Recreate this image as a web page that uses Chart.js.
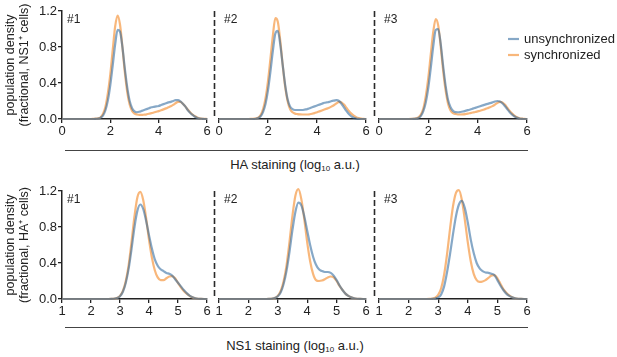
<!DOCTYPE html>
<html>
<head>
<meta charset="utf-8">
<script src="https://cdn.jsdelivr.net/npm/chart.js@4.4.1/dist/chart.umd.min.js"></script>
<style>
body { margin: 0; background: #fff; font-family: "Liberation Sans", Arial, sans-serif; color: #222; }
#wrap { position: relative; width: 617px; height: 357px; overflow: hidden; }
#wrap canvas { position: absolute; }
.rule { position: absolute; height: 0; border-top: 1px solid #444; }
.xtitle { position: absolute; width: 300px; text-align: center; font-size: 13px; line-height: 15px; }
.xtitle sub { font-size: 8px; line-height: 0; vertical-align: -2px; }
</style>
</head>
<body>
<div id="wrap">
  <canvas id="t1" width="214" height="142" style="left:0px;top:0px"></canvas>
  <canvas id="t2" width="166" height="142" style="left:207px;top:0px"></canvas>
  <canvas id="t3" width="250" height="142" style="left:367px;top:0px"></canvas>
  <canvas id="b1" width="214" height="142" style="left:0px;top:180px"></canvas>
  <canvas id="b2" width="166" height="142" style="left:207px;top:180px"></canvas>
  <canvas id="b3" width="250" height="142" style="left:367px;top:180px"></canvas>
  <div class="rule" style="left:65px;top:150px;width:463px"></div>
  <div class="xtitle" style="left:145px;top:157px">HA staining (log<sub>10</sub> a.u.)</div>
  <div class="rule" style="left:65px;top:327px;width:463px"></div>
  <div class="xtitle" style="left:145px;top:338px">NS1 staining (log<sub>10</sub> a.u.)</div>
</div>
<script>
// HA staining, x positions (log10 a.u.)
var haX = [0,
  1.2,1.3,1.4,1.5,1.6,1.7,1.8,1.9,2.0,2.1,
  2.2,2.3,2.4,2.5,2.6,2.7,2.8,2.9,3.0,3.1,
  3.2,3.3,3.4,3.5,3.6,3.7,3.8,3.9,4.0,4.1,
  4.2,4.3,4.4,4.5,4.6,4.7,4.8,4.9,5.0,5.1,
  5.2,5.3,5.4,5.5,5.6,5.7,5.8,5.9,6.0];

var haUnsync1 = [0,
  0,0,0.002,0.005,0.015,0.04,0.10,0.21,0.38,0.60,
  0.83,0.99,0.97,0.80,0.56,0.35,0.20,0.12,0.085,0.075,
  0.08,0.09,0.10,0.11,0.12,0.13,0.135,0.14,0.145,0.155,
  0.165,0.175,0.185,0.19,0.20,0.21,0.21,0.195,0.17,0.14,
  0.10,0.07,0.045,0.025,0.012,0.005,0.002,0,0];
var haSync1 = [0,
  0,0.002,0.004,0.008,0.02,0.06,0.14,0.29,0.50,0.77,
  1.03,1.15,1.05,0.80,0.52,0.30,0.16,0.09,0.06,0.05,
  0.045,0.045,0.048,0.052,0.058,0.065,0.072,0.08,0.088,0.097,
  0.107,0.118,0.13,0.142,0.157,0.175,0.19,0.19,0.17,0.14,
  0.105,0.075,0.05,0.03,0.016,0.007,0.003,0.001,0];

var haUnsync2 = [0,
  0,0,0,0.003,0.01,0.03,0.08,0.17,0.32,0.53,
  0.76,0.95,0.98,0.83,0.60,0.38,0.22,0.14,0.11,0.10,
  0.10,0.10,0.10,0.105,0.11,0.12,0.13,0.14,0.15,0.16,
  0.17,0.18,0.185,0.19,0.20,0.205,0.21,0.20,0.17,0.13,
  0.09,0.055,0.03,0.015,0.006,0.002,0,0,0];
var haSync2 = [0,
  0,0.001,0.003,0.006,0.015,0.045,0.11,0.23,0.42,0.67,
  0.93,1.12,1.08,0.87,0.60,0.36,0.20,0.11,0.075,0.06,
  0.055,0.052,0.05,0.05,0.05,0.053,0.058,0.065,0.075,0.085,
  0.095,0.105,0.115,0.125,0.14,0.155,0.175,0.19,0.185,0.16,
  0.125,0.09,0.06,0.037,0.02,0.01,0.004,0.001,0];

var haUnsync3 = [0,
  0,0,0.001,0.004,0.012,0.035,0.09,0.19,0.35,0.57,
  0.81,0.99,1.00,0.84,0.59,0.37,0.21,0.13,0.09,0.076,
  0.075,0.078,0.083,0.09,0.098,0.106,0.115,0.124,0.133,0.142,
  0.151,0.16,0.168,0.176,0.185,0.195,0.20,0.195,0.175,0.145,
  0.11,0.075,0.048,0.028,0.014,0.006,0.002,0,0];
var haSync3 = [0,
  0,0.001,0.003,0.007,0.018,0.05,0.12,0.26,0.46,0.72,
  0.97,1.11,1.04,0.81,0.54,0.32,0.17,0.095,0.065,0.055,
  0.05,0.05,0.052,0.055,0.06,0.066,0.072,0.078,0.085,0.092,
  0.10,0.11,0.12,0.13,0.143,0.16,0.178,0.19,0.185,0.16,
  0.125,0.09,0.06,0.036,0.019,0.009,0.004,0.001,0];

// NS1 staining, x positions (log10 a.u.)
var nsX = [1,
  2.5,2.6,2.7,2.8,2.9,3.0,3.1,3.2,3.3,3.4,
  3.5,3.6,3.7,3.8,3.9,4.0,4.1,4.2,4.3,4.4,
  4.5,4.6,4.7,4.8,4.9,5.0,5.1,5.2,5.3,5.4,
  5.5,5.6,5.7,5.8,5.9,6.0];

var nsUnsync1 = [0,
  0,0,0.001,0.003,0.01,0.03,0.08,0.18,0.34,0.56,
  0.80,0.98,1.05,1.00,0.87,0.71,0.56,0.44,0.37,0.33,
  0.31,0.29,0.28,0.26,0.22,0.18,0.14,0.10,0.065,0.038,
  0.02,0.009,0.003,0.001,0,0];
var nsSync1 = [0,
  0,0,0.001,0.004,0.012,0.035,0.09,0.20,0.38,0.64,
  0.92,1.13,1.19,1.10,0.90,0.66,0.46,0.32,0.24,0.21,
  0.21,0.23,0.25,0.255,0.23,0.18,0.13,0.09,0.06,0.035,
  0.018,0.008,0.003,0.001,0,0];

var nsUnsync2 = [0,
  0,0,0.001,0.003,0.01,0.03,0.075,0.17,0.32,0.53,
  0.77,0.97,1.07,1.04,0.92,0.76,0.60,0.47,0.38,0.33,
  0.31,0.30,0.30,0.29,0.26,0.21,0.15,0.10,0.06,0.035,
  0.018,0.008,0.003,0.001,0,0];
var nsSync2 = [0,
  0,0,0.001,0.004,0.012,0.035,0.09,0.20,0.38,0.64,
  0.93,1.15,1.22,1.11,0.89,0.63,0.42,0.28,0.21,0.20,
  0.205,0.22,0.24,0.25,0.24,0.20,0.145,0.10,0.06,0.035,
  0.018,0.008,0.003,0.001,0,0];

var nsUnsync3 = [0,
  0,0,0,0.002,0.006,0.018,0.05,0.14,0.30,0.50,
  0.72,0.92,1.05,1.09,1.01,0.85,0.66,0.51,0.40,0.34,
  0.31,0.295,0.29,0.28,0.265,0.21,0.15,0.10,0.06,0.035,
  0.018,0.008,0.003,0.001,0,0];
var nsSync3 = [0,
  0,0,0.001,0.004,0.014,0.045,0.12,0.27,0.50,0.78,
  1.03,1.18,1.21,1.10,0.88,0.63,0.42,0.28,0.21,0.19,
  0.195,0.21,0.235,0.26,0.265,0.23,0.17,0.11,0.07,0.04,
  0.02,0.009,0.003,0.001,0,0];

var yTicks = [0, 0.4, 0.8, 1.2];
var seriesNames = ['unsynchronized', 'synchronized'];
// blue is drawn over orange; where they coincide the mix reads grey
var blue = 'rgba(40,100,155,0.56)';
var orange = 'rgba(247,170,100,0.85)';
var ink = '#222';
var fontFamily = '"Liberation Sans", Arial, sans-serif';

function pts(xs, ys) {
  return xs.map(function (x, i) { return { x: x, y: ys[i] }; });
}

// panel number, dashed separator, legend
var deco = {
  id: 'deco',
  afterDraw: function (chart, args, o) {
    var ctx = chart.ctx, a = chart.chartArea;
    ctx.save();
    ctx.fillStyle = ink;
    ctx.font = '12px ' + fontFamily;
    ctx.textBaseline = 'middle';
    ctx.fillText(o.tag, a.left + 5, a.top + 9);
    if (o.dashed) {
      ctx.strokeStyle = '#2a2a2a';
      ctx.lineWidth = 1.6;
      ctx.setLineDash([6, 3]);
      ctx.beginPath();
      ctx.moveTo(a.left - 4.5, a.top);
      ctx.lineTo(a.left - 4.5, a.bottom);
      ctx.stroke();
      ctx.setLineDash([]);
    }
    if (o.legend) {
      ctx.font = '13px ' + fontFamily;
      chart.data.datasets.forEach(function (ds, i) {
        var y = a.top + 28 + i * 16;
        ctx.strokeStyle = ds.borderColor;
        ctx.lineWidth = 2.2;
        ctx.beginPath();
        ctx.moveTo(a.right - 19, y);
        ctx.lineTo(a.right - 8, y);
        ctx.stroke();
        ctx.fillStyle = ink;
        ctx.fillText(ds.label, a.right - 3, y);
      });
    }
    ctx.restore();
  }
};

function panel(id, xs, unsync, sync, o) {
  var first = o.first;
  return new Chart(document.getElementById(id), {
    type: 'line',
    data: {
      datasets: [
        { label: seriesNames[0], data: pts(xs, unsync), borderColor: blue },
        { label: seriesNames[1], data: pts(xs, sync), borderColor: orange }
      ]
    },
    options: {
      responsive: false,
      animation: false,
      devicePixelRatio: 1,
      clip: false,
      layout: { padding: { top: 11, left: o.padLeft, right: o.padRight, bottom: 0 } },
      elements: {
        point: { radius: 0 },
        line: { borderWidth: 2.2, cubicInterpolationMode: 'monotone', fill: false }
      },
      plugins: {
        legend: { display: false },
        tooltip: { enabled: false },
        deco: { tag: o.tag, dashed: !first, legend: !!o.legend }
      },
      scales: {
        x: {
          type: 'linear',
          min: o.xmin, max: 6,
          z: 1,
          ticks: { stepSize: o.step, color: ink, padding: 1, maxRotation: 0, font: { size: 13, family: fontFamily } },
          grid: { drawOnChartArea: false, tickLength: 4, color: ink, lineWidth: 1.3 },
          border: { color: ink, width: 1.5 },
          afterFit: function (s) { s.height = 23; }
        },
        y: {
          display: first,
          min: 0, max: 1.2,
          z: 1,
          afterBuildTicks: function (s) { s.ticks = yTicks.map(function (v) { return { value: v }; }); },
          ticks: {
            color: ink, padding: 1, font: { size: 13, family: fontFamily },
            callback: function (v) { return v.toFixed(1); }
          },
          grid: { drawOnChartArea: false, tickLength: 4, color: ink, lineWidth: 1.3 },
          border: { color: ink, width: 1.5 },
          title: {
            display: first,
            text: ['population density', o.ytitle || ''],
            color: ink,
            padding: { top: 4, bottom: 0 },
            font: { size: 12.5, family: fontFamily, lineHeight: 1.1 }
          },
          afterFit: function (s) { s.width = first ? 62 : 0; }
        }
      }
    },
    plugins: [deco]
  });
}

panel('t1', haX, haUnsync1, haSync1, { first: true, tag: '#1', padLeft: 0, padRight: 7, xmin: 0, step: 2, ytitle: '(fractional, NS1\u207A cells)' });
panel('t2', haX, haUnsync2, haSync2, { first: false, tag: '#2', padLeft: 12, padRight: 7, xmin: 0, step: 2 });
panel('t3', haX, haUnsync3, haSync3, { first: false, tag: '#3', padLeft: 12, padRight: 90, xmin: 0, step: 2, legend: true });
panel('b1', nsX, nsUnsync1, nsSync1, { first: true, tag: '#1', padLeft: 0, padRight: 7, xmin: 1, step: 1, ytitle: '(fractional, HA\u207A cells)' });
panel('b2', nsX, nsUnsync2, nsSync2, { first: false, tag: '#2', padLeft: 12, padRight: 7, xmin: 1, step: 1 });
panel('b3', nsX, nsUnsync3, nsSync3, { first: false, tag: '#3', padLeft: 12, padRight: 90, xmin: 1, step: 1 });
</script>
</body>
</html>
